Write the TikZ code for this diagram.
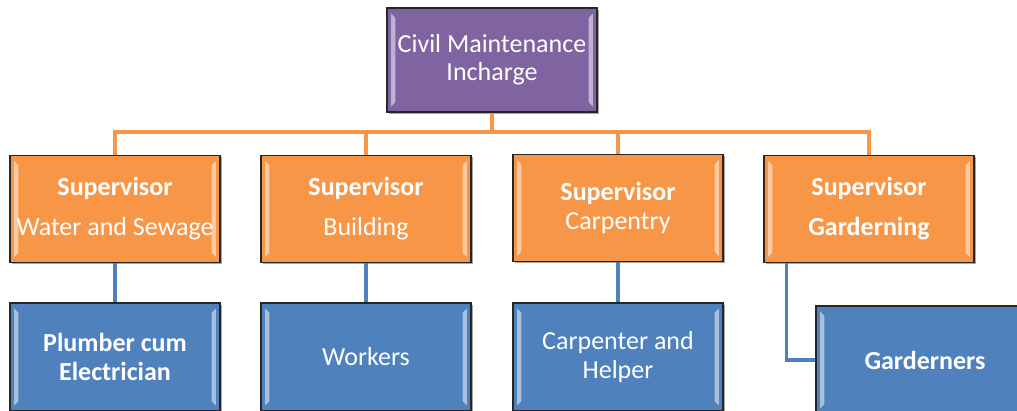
\documentclass[tikz,border=0pt]{standalone}
\usepackage{fontspec}
\setmainfont{Carlito}
\usetikzlibrary{shadows}

\definecolor{boxpurple}{RGB}{128,100,162}
\definecolor{boxorange}{RGB}{247,150,70}
\definecolor{boxblue}{RGB}{79,129,189}

\tikzset{
  box/.style={draw=black!85, line width=0.9pt, text=white, align=center,
    minimum width=5.25cm, minimum height=2.675cm, inner sep=0pt,
    font=\fontsize{18.5}{20}\selectfont,
    drop shadow={shadow xshift=1.2pt, shadow yshift=-1.2pt, opacity=.35, fill=black},
    path picture={
      \fill[white, opacity=.5]
        ([xshift=3pt,yshift=-4pt]path picture bounding box.north west) --
        ([xshift=6pt,yshift=-7pt]path picture bounding box.north west) --
        ([xshift=6pt,yshift=7pt]path picture bounding box.south west) --
        ([xshift=3pt,yshift=4pt]path picture bounding box.south west) -- cycle;
      \fill[white, opacity=.5]
        ([xshift=-3pt,yshift=-4pt]path picture bounding box.north east) --
        ([xshift=-6pt,yshift=-7pt]path picture bounding box.north east) --
        ([xshift=-6pt,yshift=7pt]path picture bounding box.south east) --
        ([xshift=-3pt,yshift=4pt]path picture bounding box.south east) -- cycle;
    }},
  headbox/.style={box, fill=boxpurple, minimum height=2.6cm},
  supbox/.style={box, fill=boxorange},
  staffbox/.style={box, fill=boxblue, minimum height=2.7cm},
  orangelink/.style={draw=boxorange, line width=2.8pt},
  bluelink/.style={draw=boxblue, line width=2.2pt},
}

\begin{document}
\begin{tikzpicture}[x=0.025cm, y=-0.025cm]
        \clip (0, 0) rectangle (1017, 410);
        \fill[white] (0, 0) rectangle (1017, 410);

        % head of the department
        \node[headbox] (head) at (492, 60) {Civil Maintenance\\Incharge};

        % supervisors
        \node[supbox] (sup1) at (115, 209) {\textbf{Supervisor}\\[8.5pt]Water and Sewage};
        \node[supbox] (sup2) at (366, 209) {\textbf{Supervisor}\\[8.5pt]Building};
        \node[supbox] (sup3) at (618, 208) {\textbf{Supervisor}\\Carpentry};
        \node[supbox] (sup4) at (869, 209) {\textbf{Supervisor}\\[8.5pt]\textbf{Garderning}};

        % staff
        \node[staffbox] (staff1) at (115, 357) {\textbf{Plumber cum}\\\textbf{Electrician}};
        \node[staffbox] (staff2) at (366, 357) {Workers};
        \node[staffbox] (staff3) at (618, 357) {Carpenter and\\Helper};
        \node[staffbox, minimum width=5.45cm] (staff4) at (925, 360) {\textbf{Garderners}};

        \coordinate (bus) at (492, 132);

        % head to supervisors
        \draw[orangelink] (head.south) -- (bus);
        \draw[orangelink] (sup1.north) |- (bus) -| (sup4.north);
        \draw[orangelink] (sup2.north) -- (sup2.north |- bus);
        \draw[orangelink] (sup3.north) -- (sup3.north |- bus);

        % supervisors to staff
        \draw[bluelink] (sup1.south) -- (staff1.north);
        \draw[bluelink] (sup2.south) -- (staff2.north);
        \draw[bluelink] (sup3.south) -- (staff3.north);
        \draw[bluelink] (sup4.south west) ++(23, 0) |- (staff4.west);
\end{tikzpicture}
\end{document}
